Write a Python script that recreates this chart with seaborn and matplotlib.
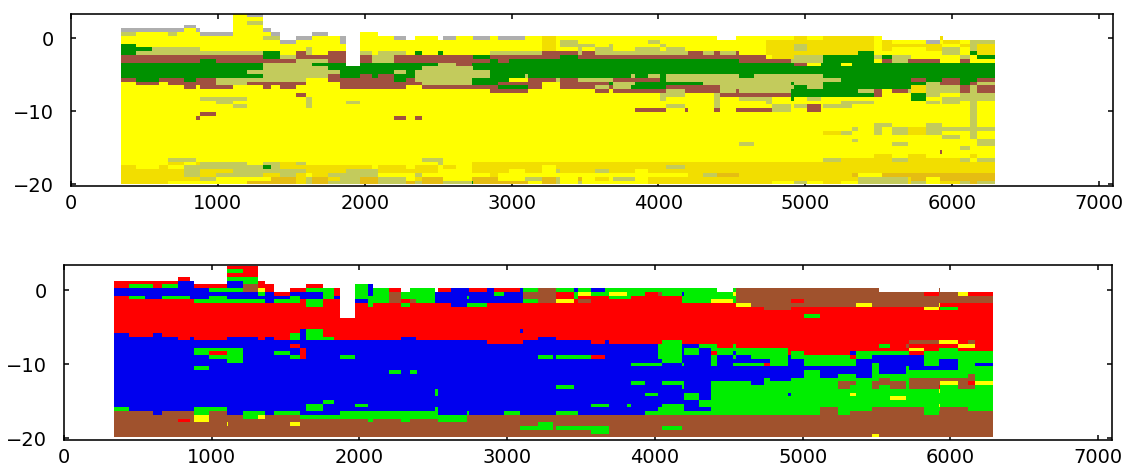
import numpy as np
import pandas as pd
import matplotlib
matplotlib.use("Agg")
import matplotlib.pyplot as plt
from matplotlib.colors import ListedColormap
import seaborn as sns

# Each row of cells, top to bottom: first letter = main class over the transect,
# then "<class><from>-<to>" stretches along the distance axis.
TOP_ROWS = [
 ". Y1100-1209 A1209-1318",
 ". Y1100-1318",
 ". Y1100-1209 K1209-1318",
 ". A773-855 Y1100-1318",
 ". A336-773 Y773-855 A855-882 Y1100-1318 A1318-1364",
 ". K336-445 Y445-664 K664-727 Y727-882 A882-1100 Y1100-1364 A1364-1427 A1645-1759 Y1977-2091",
 "Y K1318-1427 .1427-1536 A1536-1645 A1832-1873 .1873-1977 A2202-2282 .2282-2345 .2509-2539 A2539-2627 A2745-2859 A2918-3095 D3214-3309 .4409-4539 D4927-5014 D5127-5477 .5523-5925 D5925-5945 .5945-6290",
 "Y A1427-1536 A1832-1873 .1873-1977 D3214-3309 K3336-3455 K3936-4018 D4736-5477 D5523-5591 A5827-5925 D5945-6055 K6127-6290",
 "Y G336-445 .1873-1977 D3214-3309 K3336-3577 K3664-3698 K4018-4059 D4736-5477 K4927-5014 D5523-5936 D6055-6127 K6127-6173 D6173-6290",
 "Y G336-555 K555-882 K1605-1645 .1873-1977 D3214-3309 K3455-3482 K3577-3698 K3845-4018 K4059-4182 D4736-5477 K4927-5014 D5523-5591 D5827-5936 K5936-6055 K6127-6173 D6173-6290",
 "Y G336-445 K445-1318 G1318-1427 B1536-1605 K1605-1645 B1759-1873 .1873-1977 K1977-2055 K2091-2282 G2345-2391 G2509-2539 K2859-3214 B3214-3455 K3455-3482 B3482-3577 K3577-4200 B4200-4300 K4300-4382 B4382-4420 K4420-4539 B4539-4559 D4736-5364 G5364-5477 K5936-6055 G6127-6173 D6173-6290",
 "B G1318-1427 K1427-1536 .1873-1977 K2055-2202 G2745-2859 G3336-3455 Y4736-4777 D4777-4927 K4927-5127 G5127-5477 K5477-5523 G5523-5591 K5591-5723 Y5723-6055 K6055-6127 Y6127-6173 G6173-6290",
 "B G882-991 K1536-1759 .1873-1977 K2055-2202 G2859-2918 G2982-4559 B4559-4900 K4900-5127 G5127-5477 Y5477-5523 B5523-5591 K5591-5705 B5705-5925 Y5925-6055 B6055-6127 Y6127-6290",
 "G K1318-1645 .1873-1977 K2509-2627 B2627-2732 B4927-5014 Y5014-5118 Y5241-5323",
 "G K1318-1759 K2391-2745",
 "G K1209-1832 K2202-2282 K2345-2859",
 "G K1318-1759 B1759-1832 B1977-2055 B2091-2202 K2345-2859 K3095-3114 K3818-3845 K3936-4018 K4059-4559 K4659-5127",
 "G B336-445 B600-773 B855-991 K991-1605 Y1605-1759 B1759-2202 B2282-2345 K2345-2732 Y2982-3114 B3114-3309 K3309-3336 B3336-3455 K3455-3698 B3698-4018 K4059-5241 B5723-5827 B5936-6055 B6173-6290",
 "B Y336-445 Y600-664 K991-1209 Y1605-1832 K2391-2732 G2732-2918 Y3214-3336 G3664-3698 K3698-3845 G3845-4300 K4300-4900 G4900-4927 K4927-5127 G5127-5827 K5827-5927 G6055-6127 K6173-6290",
 "Y B773-855 B882-1100 B1318-1364 B1427-1536 B1832-2282 B2391-2918 G2918-3114 B3114-3214 B3336-3577 K3577-3664 B3664-3698 K3698-3818 G3818-4059 B4059-4420 K4420-4927 G4927-5014 K5014-5127 G5127-5723 D5723-5827 K5827-6055 B6055-6127 K6127-6173 B6173-6290",
 "Y B2859-3114 B3577-3664 B3698-4059 K4059-4182 B4182-4420 K4420-4539 B4539-4559 K4559-4900 G4900-5364 K5364-5477 B5477-5523 B5591-5705 K5705-5723 D5723-5827 K5827-6055 B6055-6127 K6127-6173 B6173-6290",
 "Y B1536-1605 K4018-4182 K4382-4420 B4420-4900 G4900-5477 B5477-5523 G5723-5827 K5827-5927 K6055-6290",
 "Y K882-1209 K1605-1645 K4018-4059 K4382-4420 K4559-4777 G4900-4927 K5014-5118 G5723-5827 K5936-6290",
 "Y K991-1100 K1605-1645 K1873-1977 K4382-4420 K4736-4777 K5241-5477 K5827-5927 K5936-6055 K6127-6173",
 "Y K1100-1209 K1605-1645 K4059-4182 K4382-4420 K4777-4900 K4927-5014 B5014-5118 K5127-5323 K6127-6173",
 "Y B3845-4059 B4182-4200 B4382-4420 B4539-4777 K4777-4900 B5014-5118 K6127-6173",
 "Y B882-991 K6127-6173",
 "Y B855-882 B2202-2282 B2345-2391 K6127-6173",
 "Y K6127-6173",
 "Y K5477-5591 K5827-5936 K6127-6173",
 "Y K5323-5364 K5477-5523 K5591-5705 D5705-5827 K5827-6290",
 "Y D5127-5241 K5241-5323 K5477-5523 K5591-5705 D5705-5827 K5827-5936 K6127-6173",
 "Y K5936-6055 K6127-6173",
 "Y K5323-5364 K6173-6290",
 "Y K4559-4659 K5591-5705 K6173-6290",
 "Y K6055-6127",
 "Y B5927-5936",
 "Y D5477-5591 D5705-5827 D6127-6173",
 "Y K664-855 K2391-2539 K5127-5241 D5241-5591 K5591-5705 D5705-6055 K6055-6127 K6173-6290",
 "Y D664-773 D855-882 K882-1209 K1318-1427 D1427-1536 K1536-1605 K2509-2539 D2732-6290",
 "Y D336-445 D600-664 K773-1427 G1318-1364 D1427-2055 D2091-2282 D2345-2509 D2539-2627 D2732-3214 D3309-4059 K4059-4182 D4182-6290",
 "D K773-882 K1100-1605 K1873-2091 Y2509-2732 Y2982-3095 Y3214-3309 K3309-3336 K3577-3664 Y3845-3936",
 "D K773-882 K991-1318 K1427-1536 Y1605-1645 K1759-2091 Y2091-2345 K2345-2391 Y2391-2859 Y2918-4200 K4300-4409 O4409-4559 O5323-5364 Y5364-5523 O5523-6290",
 "D K882-991 Y991-1364 O1364-1536 K1605-1645 O1645-1759 K1832-1977 O1977-2091 K2091-2282 Y2282-2345 O2391-2539 Y2539-2732 O2732-2918 Y2918-3095 K3095-3214 O3214-3309 K3309-3336 Y3336-3455 O3455-3482 Y3482-3577 Y3664-3698 K3698-3845 Y3845-3936 K5364-5705 O5723-5827 Y5827-5927 O5927-6290",
 "D Y664-1209 O1209-1536 K1605-1645 O1645-1759 K1759-1977 O1977-2091 K2091-2282 O2282-2345 K2345-2391 O2391-2539 K2539-2732 G2732-2745 O2745-3114 Y3114-3214 O3214-3309 K3309-3336 Y3336-3455 K3455-3482 Y3482-3936 Y4777-4927 K4927-5014 Y5014-5127 Y5241-5364 K5364-5705 K5723-5827 Y5827-5927 K6055-6127 O6127-6173 K6173-6290",
]

BOTTOM_ROWS = [
 ". R1102-1319",
 ". L1102-1210 R1210-1319",
 ". R1102-1319",
 ". R772-853 L1102-1319",
 ". R337-772 B772-880 B1102-1210 L1210-1319 R1319-1364",
 ". R337-441 L441-600 R600-667 L667-772 B772-880 R880-1102 B1102-1210 N1210-1319 R1319-1423 R1645-1758 L1979-2061 B2061-2093",
 ". B337-989 L989-1210 N1210-1319 Y1319-1364 R1364-1423 R1536-1645 L1645-1835 R1835-1871 L1979-2061 B2061-2093 L2093-2201 R2201-2283 L2346-2511 R2539-2625 B2625-2747 R2747-2860 B2860-2919 R2919-3095 B3095-3115 L3115-3217 N3217-3335 L3335-3457 B3457-3484 L3484-3579 B3579-3665 L3665-4421 L4536-4559 N4559-5527 N5925-5939",
 ". B337-1319 L1319-1364 B1364-1423 R1423-1536 B1536-1758 L1758-1835 R1835-1871 L1979-2061 B2061-2093 L2093-2201 N2201-2283 L2283-2511 B2511-2919 L2919-2982 B2982-3115 N3115-3335 R3335-3457 L3457-3484 Y3484-3579 L3579-3699 Y3699-3819 L3819-3936 R3936-4020 N4020-4059 L4059-4181 B4181-4203 L4203-4536 Y4536-4559 N4559-5826 R5826-5925 N5925-6054 Y6054-6129 R6129-6290",
 ". R337-441 L441-550 B550-667 L667-853 B853-989 L989-1102 B1102-1536 L1536-1604 B1604-1758 L1758-1835 B1835-1871 L1979-2201 N2201-2283 L2283-2346 L2346-2511 B2511-2733 L2733-2747 B2747-3115 N3115-3335 R3335-3457 L3457-3484 R3484-3699 L3699-3846 R3846-4181 L4181-4559 N4559-6290",
 "R L880-1364 B1364-1423 L1423-1604 L1645-1758 .1871-1979 B1979-2061 L2061-2201 N2201-2283 R2283-2346 N2346-2389 L2389-2511 B2511-3115 L3115-3217 N3217-3335 Y3335-3457 R3457-3484 N3484-3579 L4181-4382 Y4382-4536 L4536-4559 N4559-6290 R4928-5016",
 "R L1645-1758 .1871-1979 L2061-2093 L2283-2346 B2625-2733 L2733-2860 Y4559-4658 N4658-5364 Y5364-5477 N5477-5925 Y5925-5939",
 "R .1871-1979 N4740-4928 Y5826-5925 L5939-6054",
 "R .1871-1979",
 "R .1871-1979 L5016-5122",
 "R", "R", "R",
 "R B1604-1645 L1645-1758 B3095-3115",
 "R B337-441 B600-667 L1536-1604 B1604-1645 L1645-1758",
 "R B337-772 B853-880 B1102-1319 B1364-1423 L1536-1604 B1604-1645 L1645-1835 B2283-2389 B3217-3335",
 "B R2860-3115 R3579-3665 R3699-4059 L4059-4181 R4181-6290 N5726-5925 Y5925-6054 N6129-6174",
 "B R1536-1604 L4020-4181 L4303-4421 R4421-6290 L4536-4559 L5527-5595 N5703-5726 Y6054-6174",
 "B L880-1210 R1604-1645 L4020-4181 L4203-4303 L4382-4900 R4900-6290 Y5726-5826 L5925-6054",
 "B L880-1210 R989-1102 L1423-1536 R1604-1645 L4020-4181 L4203-4303 R4382-4421 L4421-6290 B4536-4559 R4900-4928 R5016-5323 B5323-5364 R5726-5826",
 "B L989-1210 L1536-1604 R1604-1645 L1871-1979 L3217-3310 L3335-3579 R3579-3665 L4020-4181 L4382-4421 L4536-4559 L4658-4900 L4928-5323 R5323-5364 L5364-5477 L5826-6290",
 "B L1102-1210 L4059-4181 L4382-4421 L4781-4900 L5016-5364 L5826-5925 L6054-6290",
 "B L3846-4059 L4181-4203 L4382-4421 L4536-4740 R4740-4781 L4781-4900 L5016-5364 L5477-5527 L5826-5925 L6054-6174",
 "B L880-989 L5477-5527 L5703-5726 L6054-6290",
 "B L2201-2283 L2346-2398 L5016-5122 L5477-5527 L5703-6290",
 "B L5016-5122 L5242-5364 L5477-6290 N6129-6174",
 "B L4740-4781 L4928-5527 N5527-5595 L5595-5726 N5726-6174 L6174-6290",
 "B L3846-3936 L4059-4203 L4382-4658 L4740-5242 N5242-5364 L5364-5477 N5477-5703 L5703-5726 N5726-5939 Y5939-6054 N6054-6129 R6129-6174 Y6174-6290",
 "B L3335-3457 L4181-4203 L4382-5242 N5242-5323 L5323-5477 N5477-5527 L5527-5595 N5595-5703 L5703-5726 N5726-5925 R5925-5939 L5939-6054 N6054-6174 L6174-6290",
 "B L2511-2539 L4382-6290 Y5925-5939",
 "B L2511-2539 L3936-4020 L4203-4303 L4382-6290 B4900-4928 Y5323-5364",
 "B L4203-4303 L4382-6290 Y5595-5703",
 "B L1758-1835 L4303-6290",
 "B L1645-1758 L1979-2061 L3579-3699 L3819-3846 L4059-4203 L4303-6290 Y5925-5939",
 "B L337-441 L880-1102 L1645-1758 L2511-2539 L4020-4203 L4382-5122 N5122-5242 L5242-5477 N5477-5826 L5826-5939 N5939-6129 L6129-6290",
 "B N337-600 N667-880 L880-989 N989-1102 L1210-1364 L1423-1604 L1871-2511 L2511-2539 L2733-2747 L2982-3095 L3335-3484 L3936-5122 N5122-5242 L5242-5323 N5323-5826 L5826-5925 N5925-6290",
 "N Y880-989 L1210-1319 Y1319-1364 L1604-2539 L2539-2733",
 "N R772-853 Y880-989 L2061-2093 L2283-2346 L2539-2733",
 "N Y1102-1110 Y1536-1604 L3217-3310",
 "N L3095-3310 L3335-3699 L4059-4181",
 "N L3579-3699",
 "N Y5477-5527",
]

CLASSES_TOP = {"Y": "#ffff00", "D": "#f2de00", "O": "#e5bd12", "K": "#c3cb5c",
               "G": "#009100", "B": "#a05040", "A": "#aeaeae"}
CLASSES_BOTTOM = {"R": "#ff0000", "L": "#00ee00", "B": "#0000ee",
                  "N": "#a0522d", "Y": "#ffff00"}

X_TICKS = [0, 1000, 2000, 3000, 4000, 5000, 6000, 7000]
Y_TICKS = [0, -10, -20]
DIST_START, DIST_END, DIST_STEP = 340, 6290, 10


def build_grid(rows, classes, x_max):
    codes = {c: i for i, c in enumerate(classes)}
    n = int(np.ceil(x_max / DIST_STEP))
    grid = np.full((len(rows), n), np.nan)
    first, last = DIST_START // DIST_STEP, DIST_END // DIST_STEP
    for r, row in enumerate(rows):
        tokens = row.split()
        if tokens[0] != ".":
            grid[r, first:last] = codes[tokens[0]]
        for tok in tokens[1:]:
            lo, hi = (int(v) // DIST_STEP for v in tok[1:].split("-"))
            grid[r, max(lo, first):hi] = np.nan if tok[0] == "." else codes[tok[0]]
    return pd.DataFrame(grid)


def panel(fig, rows, classes, box, row_h, y_base, ylim, x_max):
    W, H = fig.get_size_inches() * fig.dpi
    l, t, r, b = box
    ax = fig.add_axes([l / W, 1 - b / H, (r - l) / W, (b - t) / H])
    frame = build_grid(rows, classes, x_max)
    sns.heatmap(frame, ax=ax, cmap=ListedColormap(list(classes.values())),
                vmin=-0.5, vmax=len(classes) - 0.5, cbar=False,
                xticklabels=False, yticklabels=False)
    top_val = y_base + len(rows) * row_h
    to_idx = lambda v: (top_val - v) / row_h
    ax.set_xlim(0, x_max / DIST_STEP)
    ax.set_ylim(to_idx(ylim[0]), to_idx(ylim[1]))
    ax.set_xticks([v / DIST_STEP for v in X_TICKS])
    ax.set_xticklabels([str(v) for v in X_TICKS])
    ax.set_yticks([to_idx(v) for v in Y_TICKS])
    ax.set_yticklabels(["\u2212" + str(-v) if v else "0" for v in Y_TICKS])
    for s in ax.spines.values():
        s.set_visible(True)
        s.set_linewidth(1.15)
        s.set_color("black")
    ax.tick_params(axis="both", direction="in", top=True, right=True, bottom=True, left=True,
                   length=3.8, width=1.1, labelsize=14, colors="black")
    ax.tick_params(axis="x", pad=6, labelrotation=0)
    ax.tick_params(axis="y", pad=12, labelrotation=0)
    for lab in ax.get_xticklabels() + ax.get_yticklabels():
        lab.set_fontfamily("DejaVu Sans")
    return ax


sns.set_theme(style="white")
fig = plt.figure(figsize=(11.30, 4.66), dpi=100, facecolor="white")
panel(fig, TOP_ROWS, CLASSES_TOP, (71, 14, 1113, 186), 0.52, -20.0, (-20.23, 3.29), 7095)
panel(fig, BOTTOM_ROWS, CLASSES_BOTTOM, (64, 265, 1112, 440), 0.504, -19.9, (-20.27, 3.38), 7094)
fig.savefig("out.png", dpi=100)
